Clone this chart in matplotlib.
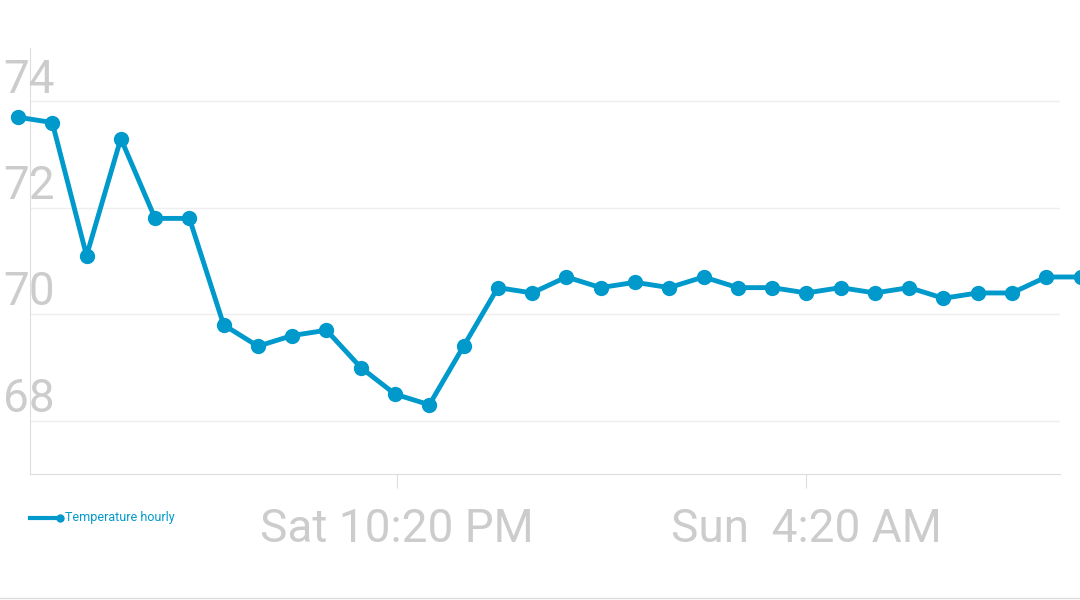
import numpy as np
import matplotlib.pyplot as plt

temps = [73.7, 73.6, 71.1, 73.3, 71.8, 71.8, 69.8, 69.4, 69.6, 69.7, 69.0, 68.5,
         68.3, 69.4, 70.5, 70.4, 70.7, 70.5, 70.6, 70.5, 70.7, 70.5, 70.5, 70.4,
         70.5, 70.4, 70.5, 70.3, 70.4, 70.4, 70.7, 70.7]
y_ticks = [68, 70, 72, 74]
x_ticks = [11.05, 23.0]
x_labels = ['Sat 10:20 PM', 'Sun  4:20 AM']

W, H = 1080, 600
blue = '#0099cc'
grey = '#cccccc'

plt.rcParams['font.family'] = ['Roboto', 'DejaVu Sans']
fig = plt.figure(figsize=(W / 100, H / 100), dpi=100)
ax = fig.add_axes([30 / W, 1 - 474 / H, 1030 / W, 426 / H])

x = np.arange(len(temps))
ax.plot(x, temps, color=blue, lw=3.5, marker='o', ms=10, clip_on=False, zorder=3)
ax.set_xlim(0.35, 30.4)
ax.set_ylim(67.0, 75.0)

for v in y_ticks:
    ax.axhline(v, color='#eeeeee', lw=1, zorder=1)
    fig.text(3 / W, 1 - (474 - (v - 67.0) * 53.2) / H, str(v), fontsize=33,
             color=grey, ha='left', va='bottom')
ax.set_yticks([])
ax.set_xticks(x_ticks)
ax.set_xticklabels(x_labels, fontsize=33, color=grey)
ax.tick_params(axis='x', length=10, color='#dddddd', pad=14)

for s in ['top', 'right']:
    ax.spines[s].set_visible(False)
ax.spines['left'].set_color('#dddddd')
ax.spines['bottom'].set_color('#dddddd')

# legend
ly = 1 - 518 / H
fig.add_artist(plt.Line2D([30 / W, 60 / W], [ly, ly], color=blue, lw=3,
                          marker='o', ms=5, markevery=[1], transform=fig.transFigure))
fig.text(65 / W, ly, 'Temperature hourly', fontsize=9, color=blue, va='center')
fig.add_artist(plt.Line2D([0, 1], [1 - 598 / H, 1 - 598 / H], color='#dddddd', lw=1,
                          transform=fig.transFigure))

fig.savefig('out.png', dpi=100)
